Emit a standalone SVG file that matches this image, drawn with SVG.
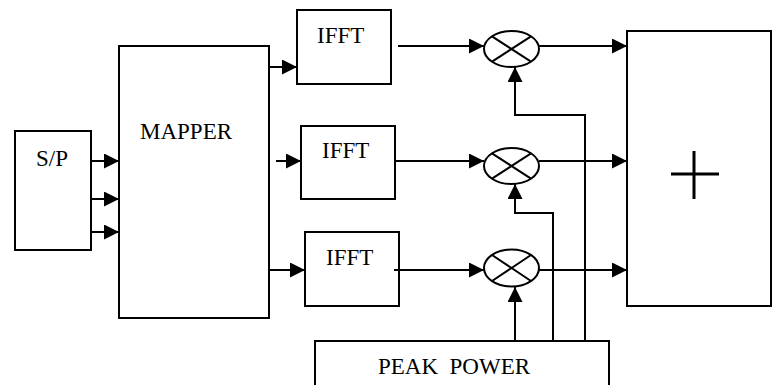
<svg xmlns="http://www.w3.org/2000/svg" width="776" height="385" viewBox="0 0 776 385">
<style>
.box{fill:#fff;stroke:#000;stroke-width:2}
.lbl{font-family:"Liberation Serif","Times New Roman",serif;font-size:23px;fill:#000}
.ln{fill:none;stroke:#000;stroke-width:2}
.arr{fill:none;stroke:#000;stroke-width:2;marker-end:url(#ah)}
.mul{fill:#fff;stroke:#000;stroke-width:2}
</style>
<defs>
<marker id="ah" markerUnits="userSpaceOnUse" markerWidth="15" markerHeight="15" refX="15" refY="7.5" orient="auto">
<path d="M0,0 L15,7.5 L0,15 z" fill="#000"/>
</marker>
</defs>
<rect width="776" height="385" fill="#fff"/>
<g id="sp">
<rect class="box" x="15" y="131" width="76" height="119"/>
<text class="lbl" x="36" y="166">S/P</text>
</g>
<g id="mapper">
<rect class="box" x="119" y="46" width="150" height="272"/>
<text class="lbl" x="140" y="139">MAPPER</text>
</g>
<g id="ifft1">
<rect class="box" x="297" y="10" width="94" height="74"/>
<text class="lbl" x="317" y="43">IFFT</text>
</g>
<g id="ifft2">
<rect class="box" x="301" y="126" width="94" height="73"/>
<text class="lbl" x="322" y="158">IFFT</text>
</g>
<g id="ifft3">
<rect class="box" x="305" y="232" width="94" height="74"/>
<text class="lbl" x="326" y="265">IFFT</text>
</g>
<g id="mult1">
<ellipse class="mul" cx="511.5" cy="49" rx="27.5" ry="18"/>
<path class="ln" d="M492,36.3 L531,61.7 M492,61.7 L531,36.3"/>
</g>
<g id="mult2">
<ellipse class="mul" cx="511.5" cy="166" rx="27.5" ry="18"/>
<path class="ln" d="M492,153.3 L531,178.7 M492,178.7 L531,153.3"/>
</g>
<g id="mult3">
<ellipse class="mul" cx="511.5" cy="268" rx="27.5" ry="18.5"/>
<path class="ln" d="M492,255 L531,281 M492,281 L531,255"/>
</g>
<g id="sum">
<rect class="box" x="627" y="31" width="144" height="275"/>
<path d="M671,174 L719,174 M694,151 L694,199" fill="none" stroke="#000" stroke-width="3"/>
</g>
<g id="peak">
<rect class="box" x="315" y="341" width="294" height="70"/>
<text class="lbl" x="378" y="374" xml:space="preserve">PEAK  POWER</text>
</g>
<g id="connectors">
<line class="arr" x1="91" y1="161" x2="119" y2="161"/>
<line class="arr" x1="91" y1="199" x2="119" y2="199"/>
<line class="arr" x1="91" y1="232" x2="119" y2="232"/>
<line class="arr" x1="269" y1="67" x2="297" y2="67"/>
<line class="arr" x1="276" y1="161" x2="301" y2="161"/>
<line class="arr" x1="269" y1="270" x2="305" y2="270"/>
<line class="arr" x1="398" y1="46" x2="484" y2="46"/>
<line class="arr" x1="395" y1="161" x2="484" y2="161"/>
<line class="arr" x1="394" y1="270" x2="484" y2="270"/>
<line class="arr" x1="539" y1="46" x2="627" y2="46"/>
<line class="arr" x1="539" y1="161" x2="627" y2="161"/>
<line class="arr" x1="539" y1="270" x2="627" y2="270"/>
<polyline class="arr" points="515,341 515,287"/>
<polyline class="arr" points="553,341 553,213 515,213 515,184"/>
<polyline class="arr" points="585,341 585,115 515,115 515,67"/>
</g>
</svg>
